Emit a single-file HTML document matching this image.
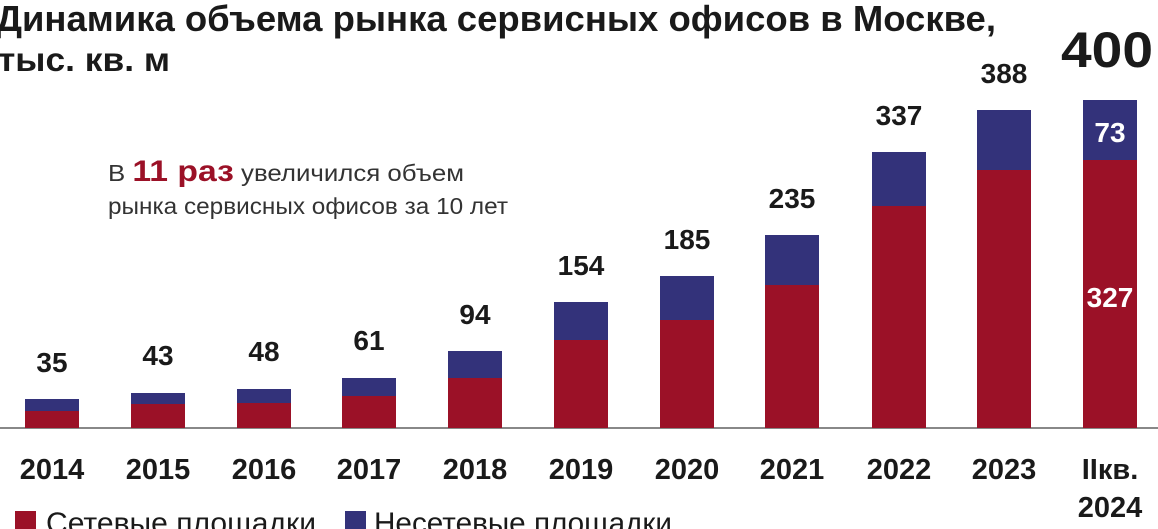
<!DOCTYPE html>
<html><head><meta charset="utf-8"><style>
html,body{margin:0;padding:0;background:#fff;width:1158px;height:529px;overflow:hidden}
svg text{font-family:"Liberation Sans",sans-serif}
</style></head><body>
<svg width="1158" height="529" viewBox="0 0 1158 529" xmlns="http://www.w3.org/2000/svg">
<text x="-4" y="31" font-size="36" font-weight="bold" fill="#1a1a1a" textLength="1000" lengthAdjust="spacingAndGlyphs">Динамика объема рынка сервисных офисов в Москве,</text>
<text x="-2" y="71" font-size="33" font-weight="bold" fill="#1a1a1a" textLength="172" lengthAdjust="spacingAndGlyphs">тыс. кв. м</text>
<text x="1061" y="67" font-size="50" font-weight="bold" fill="#1a1a1a" textLength="92" lengthAdjust="spacingAndGlyphs">400</text>
<text x="108" y="181" font-size="23" fill="#333" textLength="356" lengthAdjust="spacingAndGlyphs">В <tspan fill="#9b1127" font-weight="bold" font-size="30">11 раз</tspan> увеличился объем</text>
<text x="108" y="214" font-size="23" fill="#333" textLength="400" lengthAdjust="spacingAndGlyphs">рынка сервисных офисов за 10 лет</text>
<line x1="0" y1="428" x2="1158" y2="428" stroke="#888" stroke-width="2"/>
<g>
<rect x="25" y="399" width="54" height="29" fill="#33327a"/><rect x="25" y="411" width="54" height="17" fill="#9b1127"/>
<rect x="131" y="393" width="54" height="35" fill="#33327a"/><rect x="131" y="404" width="54" height="24" fill="#9b1127"/>
<rect x="237" y="389" width="54" height="39" fill="#33327a"/><rect x="237" y="403" width="54" height="25" fill="#9b1127"/>
<rect x="342" y="378" width="54" height="50" fill="#33327a"/><rect x="342" y="396" width="54" height="32" fill="#9b1127"/>
<rect x="448" y="351" width="54" height="77" fill="#33327a"/><rect x="448" y="378" width="54" height="50" fill="#9b1127"/>
<rect x="554" y="302" width="54" height="126" fill="#33327a"/><rect x="554" y="340" width="54" height="88" fill="#9b1127"/>
<rect x="660" y="276" width="54" height="152" fill="#33327a"/><rect x="660" y="320" width="54" height="108" fill="#9b1127"/>
<rect x="765" y="235" width="54" height="193" fill="#33327a"/><rect x="765" y="285" width="54" height="143" fill="#9b1127"/>
<rect x="872" y="152" width="54" height="276" fill="#33327a"/><rect x="872" y="206" width="54" height="222" fill="#9b1127"/>
<rect x="977" y="110" width="54" height="318" fill="#33327a"/><rect x="977" y="170" width="54" height="258" fill="#9b1127"/>
<rect x="1083" y="100" width="54" height="328" fill="#33327a"/><rect x="1083" y="160" width="54" height="268" fill="#9b1127"/>
</g>
<g font-size="28" font-weight="bold" fill="#1a1a1a" text-anchor="middle">
<text x="52" y="372">35</text><text x="158" y="365">43</text><text x="264" y="361">48</text><text x="369" y="350">61</text>
<text x="475" y="324">94</text><text x="581" y="275">154</text><text x="687" y="249">185</text><text x="792" y="208">235</text>
<text x="899" y="125">337</text><text x="1004" y="83">388</text>
<text x="1110" y="142" fill="#fff">73</text><text x="1110" y="307" fill="#fff">327</text>
</g>
<g font-size="29" font-weight="bold" fill="#1a1a1a" text-anchor="middle">
<text x="52" y="479">2014</text><text x="158" y="479">2015</text><text x="264" y="479">2016</text><text x="369" y="479">2017</text>
<text x="475" y="479">2018</text><text x="581" y="479">2019</text><text x="687" y="479">2020</text><text x="792" y="479">2021</text>
<text x="899" y="479">2022</text><text x="1004" y="479">2023</text><text x="1110" y="479">IIкв.</text><text x="1110" y="517">2024</text>
</g>
<rect x="15" y="511" width="21" height="20" fill="#9b1127"/>
<text x="46" y="533" font-size="30" fill="#1a1a1a" textLength="270" lengthAdjust="spacingAndGlyphs">Сетевые площадки</text>
<rect x="345" y="511" width="21" height="20" fill="#33327a"/>
<text x="374" y="533" font-size="30" fill="#1a1a1a" textLength="298" lengthAdjust="spacingAndGlyphs">Несетевые площадки</text>
</svg>
</body></html>
